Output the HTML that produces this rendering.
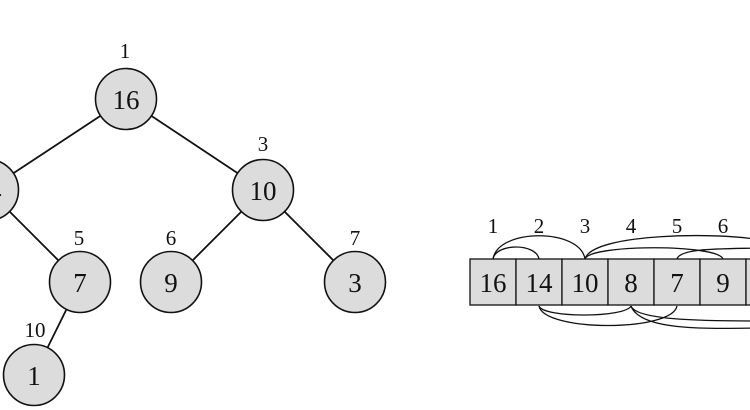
<!DOCTYPE html>
<html><head><style>
html,body{margin:0;padding:0;background:#fff;width:750px;height:410px;overflow:hidden}
svg{display:block}
text{font-family:"Liberation Serif",serif;fill:#111}
</style></head><body>
<svg width="750" height="410" viewBox="0 0 750 410" xmlns="http://www.w3.org/2000/svg">
<g stroke="#111" stroke-width="1.8" fill="none">
<line x1="126" y1="99" x2="-12" y2="190"/>
<line x1="126" y1="99" x2="263" y2="190"/>
<line x1="-12" y1="190" x2="80" y2="282"/>
<line x1="263" y1="190" x2="171" y2="282"/>
<line x1="263" y1="190" x2="355" y2="282"/>
<line x1="80" y1="282" x2="34" y2="375"/>
</g>
<g fill="#dcdcdc" stroke="#111" stroke-width="1.6">
<circle cx="126" cy="99" r="30.5"/>
<circle cx="-12" cy="190" r="30.5"/>
<circle cx="263" cy="190" r="30.5"/>
<circle cx="80" cy="282" r="30.5"/>
<circle cx="171" cy="282" r="30.5"/>
<circle cx="355" cy="282" r="30.5"/>
<circle cx="34" cy="375" r="30.5"/>
</g>
<g font-size="27" text-anchor="middle">
<text x="126" y="109">16</text>
<text x="-12" y="200">14</text>
<text x="263" y="200">10</text>
<text x="80" y="292">7</text>
<text x="171" y="292">9</text>
<text x="355" y="292">3</text>
<text x="34" y="385">1</text>
</g>
<g font-size="21" text-anchor="middle">
<text x="125" y="58">1</text>
<text x="263" y="151">3</text>
<text x="79" y="245">5</text>
<text x="171" y="245">6</text>
<text x="355" y="245">7</text>
<text x="35" y="337">10</text>
<text x="493" y="233">1</text>
<text x="539" y="233">2</text>
<text x="585" y="233">3</text>
<text x="631" y="233">4</text>
<text x="677" y="233">5</text>
<text x="723" y="233">6</text>
</g>
<g stroke="#111" stroke-width="1.3" fill="none">
<path d="M493 259 C496 243,536 243,539 259"/>
<path d="M493 259 C498 228,580 228,585 259"/>
<path d="M585 259 C592 233,720 232,760 240"/>
<path d="M585 259 C590 244,718 244,723 259"/>
<path d="M677 259 C680 248,720 249,760 248"/>
<path d="M539 306 C543 318,625 318,631 306"/>
<path d="M539 306 C544 332,672 332,677 306"/>
<path d="M631 306 C636 320,700 321,760 321"/>
<path d="M631 306 C640 330,700 329,760 328"/>
</g>
<g fill="#dcdcdc" stroke="#111" stroke-width="1.3">
<rect x="470" y="259" width="46" height="46"/>
<rect x="516" y="259" width="46" height="46"/>
<rect x="562" y="259" width="46" height="46"/>
<rect x="608" y="259" width="46" height="46"/>
<rect x="654" y="259" width="46" height="46"/>
<rect x="700" y="259" width="46" height="46"/>
<rect x="746" y="259" width="46" height="46"/>
</g>
<g font-size="27" text-anchor="middle">
<text x="493" y="292">16</text>
<text x="539" y="292">14</text>
<text x="585" y="292">10</text>
<text x="631" y="292">8</text>
<text x="677" y="292">7</text>
<text x="723" y="292">9</text>
</g>
</svg>
</body></html>
